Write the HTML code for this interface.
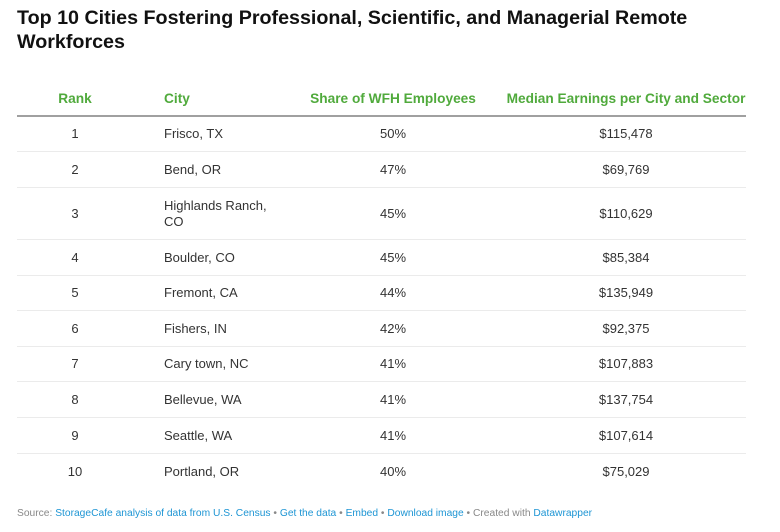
<!DOCTYPE html>
<html><head><meta charset="utf-8">
<style>
*{margin:0;padding:0;box-sizing:border-box}
html,body{width:780px;height:532px;background:#fff;overflow:hidden}
body{font-family:"Liberation Sans",Arial,sans-serif;color:#333;position:relative}
.title{position:absolute;left:17px;top:6px;font-size:19.7px;line-height:24px;font-weight:bold;color:#111;white-space:nowrap}
.tbl{position:absolute;left:17px;top:82px;width:729px}
.row{position:relative;height:35px;border-bottom:1px solid #ebebeb;font-size:13px}
.row.h{border-bottom:2px solid #a0a0a0;color:#50aa3c;font-weight:bold;font-size:13.7px;padding-top:1px}
.row.last{border-bottom:none}
.c{position:absolute;top:0;bottom:0;display:flex;align-items:center;line-height:15.5px}
.row.h .c{top:1px}
.c1{left:0;width:116px;justify-content:center}
.c2{left:147px;width:125px}
.c3{left:263px;width:226px;justify-content:center}
.c4{left:489px;width:240px;justify-content:center}
.foot{position:absolute;left:17px;top:507px;font-size:10.25px;line-height:14px;color:#888;white-space:nowrap}
.foot a{color:#1d95d4;text-decoration:none}
</style></head><body>
<div class="title">Top 10 Cities Fostering Professional, Scientific, and Managerial Remote<br>Workforces</div>
<div class="tbl">
<div class="row h" style="height:35px"><div class="c c1">Rank</div><div class="c c2">City</div><div class="c c3">Share of WFH Employees</div><div class="c c4">Median Earnings per City and Sector</div></div>
<div class="row" style="height:35px"><div class="c c1">1</div><div class="c c2">Frisco, TX</div><div class="c c3">50%</div><div class="c c4">$115,478</div></div>
<div class="row" style="height:36px"><div class="c c1">2</div><div class="c c2">Bend, OR</div><div class="c c3">47%</div><div class="c c4">$69,769</div></div>
<div class="row" style="height:52px"><div class="c c1">3</div><div class="c c2">Highlands Ranch,<br>CO</div><div class="c c3">45%</div><div class="c c4">$110,629</div></div>
<div class="row" style="height:36px"><div class="c c1">4</div><div class="c c2">Boulder, CO</div><div class="c c3">45%</div><div class="c c4">$85,384</div></div>
<div class="row" style="height:35px"><div class="c c1">5</div><div class="c c2">Fremont, CA</div><div class="c c3">44%</div><div class="c c4">$135,949</div></div>
<div class="row" style="height:36px"><div class="c c1">6</div><div class="c c2">Fishers, IN</div><div class="c c3">42%</div><div class="c c4">$92,375</div></div>
<div class="row" style="height:35px"><div class="c c1">7</div><div class="c c2">Cary town, NC</div><div class="c c3">41%</div><div class="c c4">$107,883</div></div>
<div class="row" style="height:36px"><div class="c c1">8</div><div class="c c2">Bellevue, WA</div><div class="c c3">41%</div><div class="c c4">$137,754</div></div>
<div class="row" style="height:36px"><div class="c c1">9</div><div class="c c2">Seattle, WA</div><div class="c c3">41%</div><div class="c c4">$107,614</div></div>
<div class="row last" style="height:35px"><div class="c c1">10</div><div class="c c2">Portland, OR</div><div class="c c3">40%</div><div class="c c4">$75,029</div></div>
</div>
<div class="foot">Source: <a>StorageCafe analysis of data from U.S. Census</a> • <a>Get the data</a> • <a>Embed</a> • <a>Download image</a> • Created with <a>Datawrapper</a></div>
</body></html>
